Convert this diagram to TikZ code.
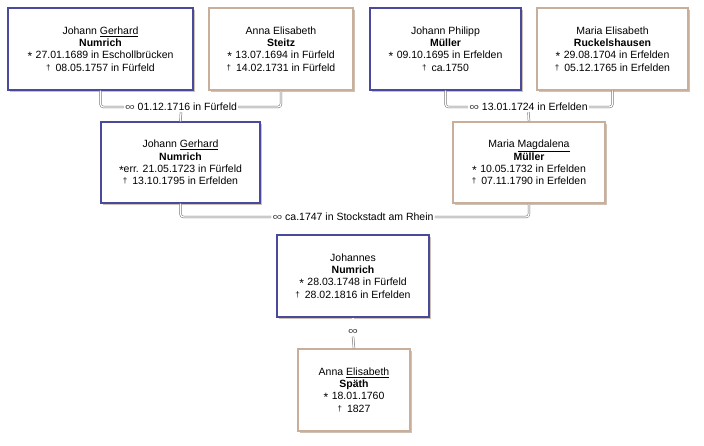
\documentclass[tikz,border=0pt]{standalone}
\usepackage{fontspec}
\setmainfont{Liberation Sans}
\usetikzlibrary{shadows}
\definecolor{maleline}{HTML}{4A4A9C}
\definecolor{femline}{HTML}{C9AE9A}
\definecolor{connline}{HTML}{6A6A6A}
\tikzset{
  person/.style={draw, line width=1.1pt, fill=white, align=center, inner sep=0pt,
    minimum height=82pt, font=\fontsize{10.5}{12.3}\selectfont,
    drop shadow={shadow xshift=1.8pt, shadow yshift=-1.8pt, fill=black!45!brown!60, opacity=0.55}},
  male/.style={person, draw=maleline},
  female/.style={person, draw=femline},
  conn/.style={draw=connline, line width=0.5pt, double=white, double distance=1.3pt, rounded corners=3pt},
  marr/.style={inner sep=1.2pt, font=\fontsize{10.5}{12}\selectfont}
}
\newcommand{\bornsym}{\smash{\raisebox{-0.35ex}{\fontsize{12}{12}\selectfont *}}\hspace{3.5pt}}
\newcommand{\diedsym}{\smash{\raisebox{0.2ex}{\fontsize{8}{8}\selectfont †}}\hspace{5pt}}
\newcommand{\marsym}{\textcolor{black!75}{\scalebox{1.3}[1]{∞}}}
\begin{document}
\begin{tikzpicture}[x=1pt,y=-1pt]
\useasboundingbox (0,0) rectangle (704,446);
\node[male, minimum width=185pt] (b1) at (100.5,49)
  {Johann \underline{Gerhard}\\\textbf{Numrich}\\\bornsym 27.01.1689 in Eschollbrücken\\\diedsym 08.05.1757 in Fürfeld};
\node[female, minimum width=144pt] (b2) at (281,49)
  {Anna Elisabeth\\\textbf{Steitz}\\\bornsym 13.07.1694 in Fürfeld\\\diedsym 14.02.1731 in Fürfeld};
\node[male, minimum width=151pt] (b3) at (445.5,49)
  {Johann Philipp\\\textbf{Müller}\\\bornsym 09.10.1695 in Erfelden\\\diedsym ca.1750};
\node[female, minimum width=151pt] (b4) at (612.5,49)
  {Maria Elisabeth\\\textbf{Ruckelshausen}\\\bornsym 29.08.1704 in Erfelden\\\diedsym 05.12.1765 in Erfelden};
\node[male, minimum width=159pt, minimum height=81pt] (b5) at (180.5,162.5)
  {Johann \underline{Gerhard}\\\textbf{Numrich}\\\smash{\raisebox{-0.35ex}{\fontsize{12}{12}\selectfont *}}err. 21.05.1723 in Fürfeld\\\diedsym 13.10.1795 in Erfelden};
\node[female, minimum width=152pt, minimum height=81pt] (b6) at (529,162.5)
  {Maria \underline{Magdalena}\\\textbf{Müller}\\\bornsym 10.05.1732 in Erfelden\\\diedsym 07.11.1790 in Erfelden};
\node[male, minimum width=152pt] (b7) at (353,276)
  {Johannes\\\textbf{Numrich}\\\bornsym 28.03.1748 in Fürfeld\\\diedsym 28.02.1816 in Erfelden};
\node[female, minimum width=112pt] (b8) at (354,390)
  {Anna \underline{Elisabeth}\\\textbf{Späth}\\\bornsym 18.01.1760\\\diedsym 1827};
\node[marr] (m1) at (181,107) {\marsym\ 01.12.1716 in Fürfeld};
\node[marr] (m2) at (528.5,107) {\marsym\ 13.01.1724 in Erfelden};
\node[marr] (m3) at (353,217) {\marsym\ ca.1747 in Stockstadt am Rhein};
\node[marr, inner sep=2pt] (m4) at (353,332) {\marsym};
\draw[conn] (b1.south) |- (m1.west);
\draw[conn] (m1.east) -| (b2.south);
\draw[conn] (m1.south) -- (b5.north);
\draw[conn] (b3.south) |- (m2.west);
\draw[conn] (m2.east) -| (b4.south);
\draw[conn] (m2.south) -- (b6.north);
\draw[conn] (b5.south) |- (m3.west);
\draw[conn] (m3.east) -| (b6.south);
\draw[conn] (m3.south) -- (b7.north);
\draw[conn] (b7.south) -- (m4.north);
\draw[conn] (m4.south) -- (b8.north);
\end{tikzpicture}
\end{document}
